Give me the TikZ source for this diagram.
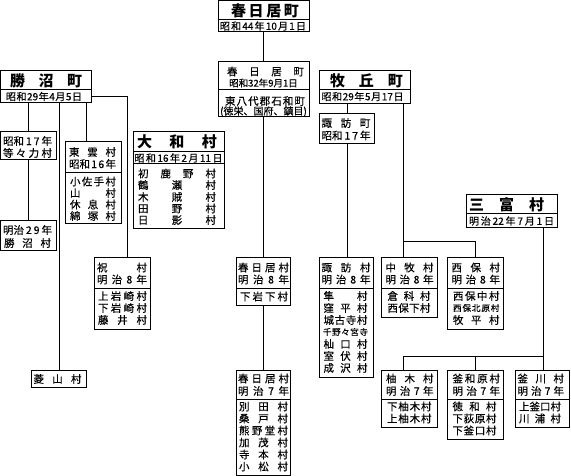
\documentclass[tikz,border=0pt]{standalone}
\usepackage{fontspec}
\setmainfont{Noto Sans CJK JP}
\newfontfamily\cjkdk{Noto Sans CJK JP}[FakeBold=0.35]
\newcommand\jst[2]{\hbox to #1pt{\vphantom{国}\foreach \jc [count=\jn] in {#2}{\ifnum\jn>1 \hfill\fi\jc}}}
\newcommand\fnb{\cjkdk\fontsize{10.5}{12}\selectfont}
\newcommand\fnd{\cjkdk\fontsize{10}{12}\selectfont}
\newcommand\fnds{\cjkdk\fontsize{9.5}{11}\selectfont}
\newcommand\fns{\cjkdk\fontsize{8.6}{10}\selectfont}
\newcommand\fnt{\fontsize{15}{16}\selectfont\bfseries}
\tikzset{
  bx/.style={draw, line width=1pt, inner sep=0pt, outer sep=0pt, anchor=north west},
  ln/.style={line width=1pt},
  txt/.style={anchor=west, inner sep=0pt, outer sep=0pt},
  ctxt/.style={anchor=center, inner sep=0pt, outer sep=0pt},
}
\newcommand\mkbox[5]{\node[bx, minimum width={#4-#2}, minimum height={#5-#3}] (#1) at (#2,#3) {};}
\newcommand\dvd[2]{\draw[ln] (#1.west |- 0,#2) -- (#1.east |- 0,#2);}
\newcommand\tline[5]{\node[txt, font=#4] at (#1,#2) {\jst{#3}{#5}};}
\newcommand\tctr[4]{\node[ctxt, font=#3] at (#1,#2) {\vphantom{国}#4};}
\begin{document}
\begin{tikzpicture}[x=1pt,y=-1pt]
\useasboundingbox[fill=white] (0,0) rectangle (571,476);
% boxes
\mkbox{K0}{218}{1}{309}{32}\dvd{K0}{20}
\mkbox{K1}{218}{62}{309}{117}\dvd{K1}{90}
\mkbox{KT}{0.5}{71}{91}{103}\dvd{KT}{90}
\mkbox{S17}{0.5}{132}{56}{160}
\mkbox{M29}{0.5}{221}{56}{251}
\mkbox{HS}{31.5}{370}{86.5}{387.5}
\mkbox{TU}{65.5}{142}{121}{224}\dvd{TU}{173}
\mkbox{YM}{133.5}{131.5}{224.5}{228.5}\dvd{YM}{151.5}\dvd{YM}{164}
\mkbox{IW}{94.5}{258}{150.5}{329}\dvd{IW}{288.5}
\mkbox{KM8}{236}{258}{290.5}{305}\dvd{KM8}{288.5}
\mkbox{KM7}{236}{370}{290.5}{475}\dvd{KM7}{399.5}
\mkbox{MK}{319.5}{71}{410.5}{103.5}\dvd{MK}{90}
\mkbox{SWM}{319.5}{113.5}{374.5}{143.5}
\mkbox{MT}{466}{195}{557}{228}\dvd{MT}{214}
\mkbox{SWV}{319.5}{258}{373.5}{377}\dvd{SWV}{288}
\mkbox{NM}{381.5}{258}{437.5}{317.5}\dvd{NM}{288}
\mkbox{NH}{447.5}{258}{503.5}{329}\dvd{NH}{288}
\mkbox{YN}{381.5}{370}{437.5}{427.5}\dvd{YN}{399}
\mkbox{KW}{447.5}{370}{503.5}{439.5}\dvd{KW}{399}
\mkbox{KG}{515}{370}{569}{427.5}\dvd{KG}{399}
% texts
\tline{231}{11}{68}{\fnt}{春,日,居,町}
\tline{220}{26}{86}{\fnd}{昭,和,44,年,10,月,1,日}
\tline{227}{71.5}{77}{\fnb}{春,日,居,町}
\tctr{263.5}{83}{\fnds}{昭和32年9月1日}
\tline{225}{101}{80}{\fnb}{東,八,代,郡,石,和,町}
\tctr{263.5}{111.5}{\fnd}{(徳栄、国府、鎮目)}
\tline{10}{80.5}{72}{\fnt}{勝,沼,町}
\tline{6}{96.5}{76}{\fnd}{昭,和,29,年,4,月,5,日}
\tline{3}{141}{49}{\fnb}{昭和,1,7,年}
\tline{3}{153}{49}{\fnb}{等,々,力,村}
\tline{3}{230}{49}{\fnb}{明治,2,9,年}
\tline{4}{243}{47}{\fnb}{勝,沼,村}
\tline{33.5}{379}{48}{\fnb}{菱,山,村}
\tline{69}{152}{47}{\fnb}{東,雲,村}
\tline{69}{164}{47}{\fnb}{昭和,1,6,年}
\tline{70}{181.5}{46}{\fnb}{小,佐,手,村}
\tline{70}{193}{46}{\fnb}{山,村}
\tline{70}{204.5}{46}{\fnb}{休,息,村}
\tline{70}{216}{46}{\fnb}{綿,塚,村}
\tline{137}{141.5}{80}{\fnt}{大,和,村}
\tline{134.5}{158}{88}{\fnd}{昭,和,16,年,2,月,11,日}
\tline{138}{173.5}{78}{\fnb}{初,鹿,野,村}
\tline{138}{185}{78}{\fnb}{鶴,瀬,村}
\tline{138}{197}{78}{\fnb}{木,賊,村}
\tline{138}{208.5}{78}{\fnb}{田,野,村}
\tline{138}{220}{78}{\fnb}{日,影,村}
\tline{97}{267.5}{50}{\fnb}{祝,村}
\tline{97}{279.5}{50}{\fnb}{明,治,8,年}
\tline{98}{296}{49}{\fnb}{上,岩,崎,村}
\tline{98}{308}{49}{\fnb}{下,岩,崎,村}
\tline{98}{320}{49}{\fnb}{藤,井,村}
\tline{238}{267.5}{51}{\fnb}{春,日,居,村}
\tline{238}{279.5}{51}{\fnb}{明,治,8,年}
\tline{240}{296.5}{48}{\fnb}{下,岩,下,村}
\tline{238}{378.5}{51}{\fnb}{春,日,居,村}
\tline{238}{391}{51}{\fnb}{明,治,7,年}
\tline{239}{406.5}{49}{\fnb}{別,田,村}
\tline{239}{418.5}{49}{\fnb}{桑,戸,村}
\tline{239}{430.5}{49}{\fnb}{熊,野,堂,村}
\tline{239}{442.5}{49}{\fnb}{加,茂,村}
\tline{239}{454.5}{49}{\fnb}{寺,本,村}
\tline{239}{466.5}{49}{\fnb}{小,松,村}
\tline{330}{81}{73}{\fnt}{牧,丘,町}
\tline{321.5}{96.5}{82}{\fnd}{昭,和,29,年,5,月,17,日}
\tline{321.5}{123}{49}{\fnb}{諏,訪,町}
\tline{321.5}{135.5}{49}{\fnb}{昭和,1,7,年}
\tline{469}{205}{75}{\fnt}{三,富,村}
\tline{469}{221}{85}{\fnd}{明,治,22,年,7,月,1,日}
\tline{321.5}{267.5}{49}{\fnb}{諏,訪,村}
\tline{321.5}{279.5}{49}{\fnb}{明,治,8,年}
\tline{323.5}{296}{44}{\fnb}{隼,村}
\tline{323.5}{308}{44}{\fnb}{窪,平,村}
\tline{323.5}{320}{44}{\fnb}{城,古,寺,村}
\tline{323}{332}{45}{\fns}{千,野,々,宮,寺}
\tline{323.5}{344}{44}{\fnb}{杣,口,村}
\tline{323.5}{356}{44}{\fnb}{室,伏,村}
\tline{323.5}{368}{44}{\fnb}{成,沢,村}
\tline{385.5}{267.5}{48}{\fnb}{中,牧,村}
\tline{385.5}{279.5}{48}{\fnb}{明,治,8,年}
\tline{387.5}{296}{43}{\fnb}{倉,科,村}
\tline{387.5}{308}{43}{\fnb}{西,保,下,村}
\tline{451.5}{267.5}{48.5}{\fnb}{西,保,村}
\tline{451.5}{279.5}{48.5}{\fnb}{明,治,8,年}
\tline{453}{296}{46.5}{\fnb}{西,保,中,村}
\tline{453}{308}{46.5}{\fns}{西,保,北,原,村}
\tline{453}{320}{46.5}{\fnb}{牧,平,村}
\tline{386}{378.5}{47.5}{\fnb}{柚,木,村}
\tline{386}{391}{47.5}{\fnb}{明,治,7,年}
\tline{387}{406.5}{44.5}{\fnb}{下,柚,木,村}
\tline{387}{418.5}{44.5}{\fnb}{上,柚,木,村}
\tline{452.5}{378.5}{47.5}{\fnb}{釜,和,原,村}
\tline{452.5}{391}{47.5}{\fnb}{明,治,7,年}
\tline{452.5}{406.5}{44}{\fnb}{徳,和,村}
\tline{452.5}{418.5}{44}{\fnb}{下,荻,原,村}
\tline{452.5}{430.5}{44}{\fnb}{下,釜,口,村}
\tline{517.5}{378.5}{46.5}{\fnb}{釜,川,村}
\tline{517.5}{391}{46.5}{\fnb}{明,治,7,年}
\tline{519}{406.5}{42}{\fnb}{上,釜,口,村}
\tline{519}{418.5}{42}{\fnb}{川,浦,村}
% connectors
\coordinate (xtu) at (86.7,0);
\coordinate (xiw) at (127.7,0);
\coordinate (xnm) at (403.7,0);
\coordinate (xkg) at (543.5,0);
\draw[ln] (K0.south) -- (K1.north);
\draw[ln] (K1.south) -- (K1.south |- KM8.north);
\draw[ln] (KM8.south) -- (KM8.south |- KM7.north);
\draw[ln] (S17.north |- KT.south) -- (S17.north);
\draw[ln] (S17.south) -- (M29.north);
\draw[ln] (HS.north |- KT.south) -- (HS.north);
\draw[ln] (xtu |- KT.south) -- (xtu |- TU.north);
\draw[ln] (KT.east |- 0,96.7) -- (xiw |- 0,96.7) -- (xiw |- IW.north);
\draw[ln] (SWM.north |- MK.south) -- (SWM.north);
\draw[ln] (SWM.south) -- (SWM.south |- SWV.north);
\draw[ln] (xnm |- MK.south) -- (xnm |- NM.north);
\draw[ln] (xnm |- 0,242) -- (NH.north |- 0,242) -- (NH.north);
\draw[ln] (xkg |- MT.south) -- (xkg |- KG.north);
\draw[ln] (xkg |- 0,356) -- (xnm |- 0,356) -- (xnm |- YN.north);
\draw[ln] (KW.north |- 0,356) -- (KW.north);
\end{tikzpicture}
\end{document}
